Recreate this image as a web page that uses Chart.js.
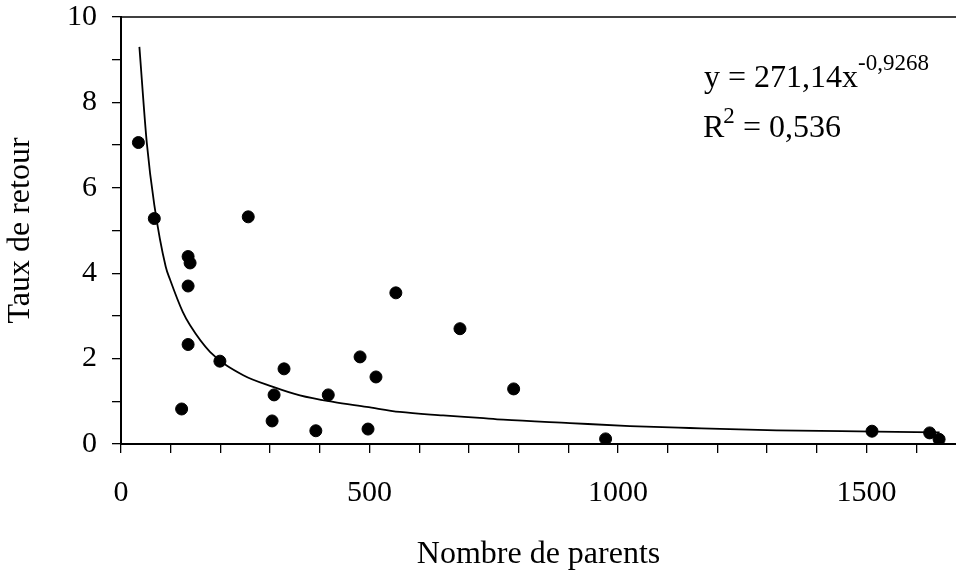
<!DOCTYPE html>
<html>
<head>
<meta charset="utf-8">
<script src="https://cdn.jsdelivr.net/npm/chart.js@4/dist/chart.umd.min.js"></script>
<style>
  body { margin: 0; background: #fff; }
  #wrap { width: 956px; height: 571px; }
</style>
</head>
<body>
<div id="wrap"><canvas id="chart" width="956" height="571"></canvas></div>
<script>
// points
const parents = [35, 67, 256, 135, 139, 135, 135, 199, 122, 328, 308, 304, 392, 417, 481, 513, 497, 553, 682, 790, 975, 1511, 1627, 1646];
const taux = [7.06, 5.28, 5.32, 4.39, 4.24, 3.70, 2.33, 1.94, 0.82, 1.76, 1.15, 0.54, 0.31, 1.15, 2.04, 1.57, 0.35, 3.54, 2.70, 1.29, 0.12, 0.30, 0.26, 0.11];

// courbe de tendance
const trendX = [37, 52, 67, 90, 99, 124, 139, 179, 246, 306, 360, 427, 494, 561, 648, 722, 769, 903, 1024, 1144, 1319, 1520, 1647];
const trendY = [9.30, 7.04, 5.60, 4.15, 3.84, 3.10, 2.78, 2.16, 1.61, 1.34, 1.14, 0.985, 0.87, 0.75, 0.67, 0.61, 0.57, 0.49, 0.42, 0.375, 0.32, 0.29, 0.27];

const xLabels = [0, 500, 1000, 1500];
const yLabels = [0, 2, 4, 6, 8, 10];

const serif = '"Liberation Serif", "Times New Roman", serif';

// cadre du haut + équation
const extras = {
  id: 'extras',
  afterDraw(chart) {
    const ctx = chart.ctx;
    const a = chart.chartArea;
    ctx.save();
    ctx.strokeStyle = '#000';
    ctx.lineWidth = 1.5;
    ctx.beginPath();
    ctx.moveTo(a.left, a.top);
    ctx.lineTo(956, a.top);
    ctx.stroke();

    ctx.fillStyle = '#000';
    ctx.textBaseline = 'alphabetic';
    ctx.textAlign = 'left';
    ctx.font = '32px ' + serif;
    const l1 = 'y = 271,14x';
    ctx.fillText(l1, 704, 87);
    const w1 = ctx.measureText(l1).width;
    ctx.font = '23px ' + serif;
    ctx.fillText('-0,9268', 704 + w1, 70);

    ctx.font = '32px ' + serif;
    ctx.fillText('R', 703, 137);
    const wr = ctx.measureText('R').width;
    ctx.font = '23px ' + serif;
    ctx.fillText('2', 703 + wr - 1, 123);
    ctx.font = '32px ' + serif;
    ctx.fillText('= 0,536', 743, 137);
    ctx.restore();
  }
};

const ctx = document.getElementById('chart').getContext('2d');
new Chart(ctx, {
  type: 'scatter',
  data: {
    datasets: [
      {
        label: 'Taux de retour',
        data: parents.map((x, i) => ({ x: x, y: taux[i] })),
        backgroundColor: '#000',
        borderColor: '#000',
        pointRadius: 6,
        pointHoverRadius: 6
      },
      {
        label: 'Tendance',
        type: 'line',
        data: trendX.map((x, i) => ({ x: x, y: trendY[i] })),
        borderColor: '#000',
        borderWidth: 1.8,
        pointRadius: 0,
        fill: false,
        cubicInterpolationMode: 'monotone'
      }
    ]
  },
  options: {
    responsive: false,
    animation: false,
    layout: { autoPadding: false, padding: { top: 17, right: 0, left: 0, bottom: 0 } },
    plugins: {
      legend: { display: false },
      tooltip: { enabled: false }
    },
    scales: {
      x: {
        type: 'linear',
        min: 0,
        max: 1680,
        afterFit: (s) => { s.height = 127; s.paddingLeft = 0; s.paddingRight = 0; },
        border: { display: true, color: '#000', width: 2 },
        grid: { drawOnChartArea: false, drawTicks: true, tickLength: 9, tickColor: '#000', lineWidth: 1.3 },
        ticks: {
          stepSize: 100,
          includeBounds: false,
          autoSkip: false,
          maxRotation: 0,
          padding: 25,
          color: '#000',
          font: { family: serif, size: 30, lineHeight: 1 },
          callback: (v) => xLabels.includes(v) ? String(v) : ''
        },
        title: {
          display: true,
          text: 'Nombre de parents',
          color: '#000',
          font: { family: serif, size: 32, lineHeight: 1 },
          padding: { top: 0, bottom: 0 }
        }
      },
      y: {
        min: 0,
        max: 10,
        afterFit: (s) => { s.width = 121; s.paddingTop = 0; s.paddingBottom = 0; },
        border: { display: true, color: '#000', width: 2 },
        grid: { drawOnChartArea: false, drawTicks: true, tickLength: 9, tickColor: '#000', lineWidth: 1.3 },
        ticks: {
          stepSize: 1,
          autoSkip: false,
          padding: 15,
          color: '#000',
          font: { family: serif, size: 30, lineHeight: 1 },
          callback: (v) => yLabels.includes(v) ? String(v) : ''
        },
        title: {
          display: true,
          text: 'Taux de retour',
          color: '#000',
          font: { family: serif, size: 32, lineHeight: 1 },
          padding: { top: 5, bottom: 0 }
        }
      }
    }
  },
  plugins: [extras]
});
</script>
</body>
</html>
